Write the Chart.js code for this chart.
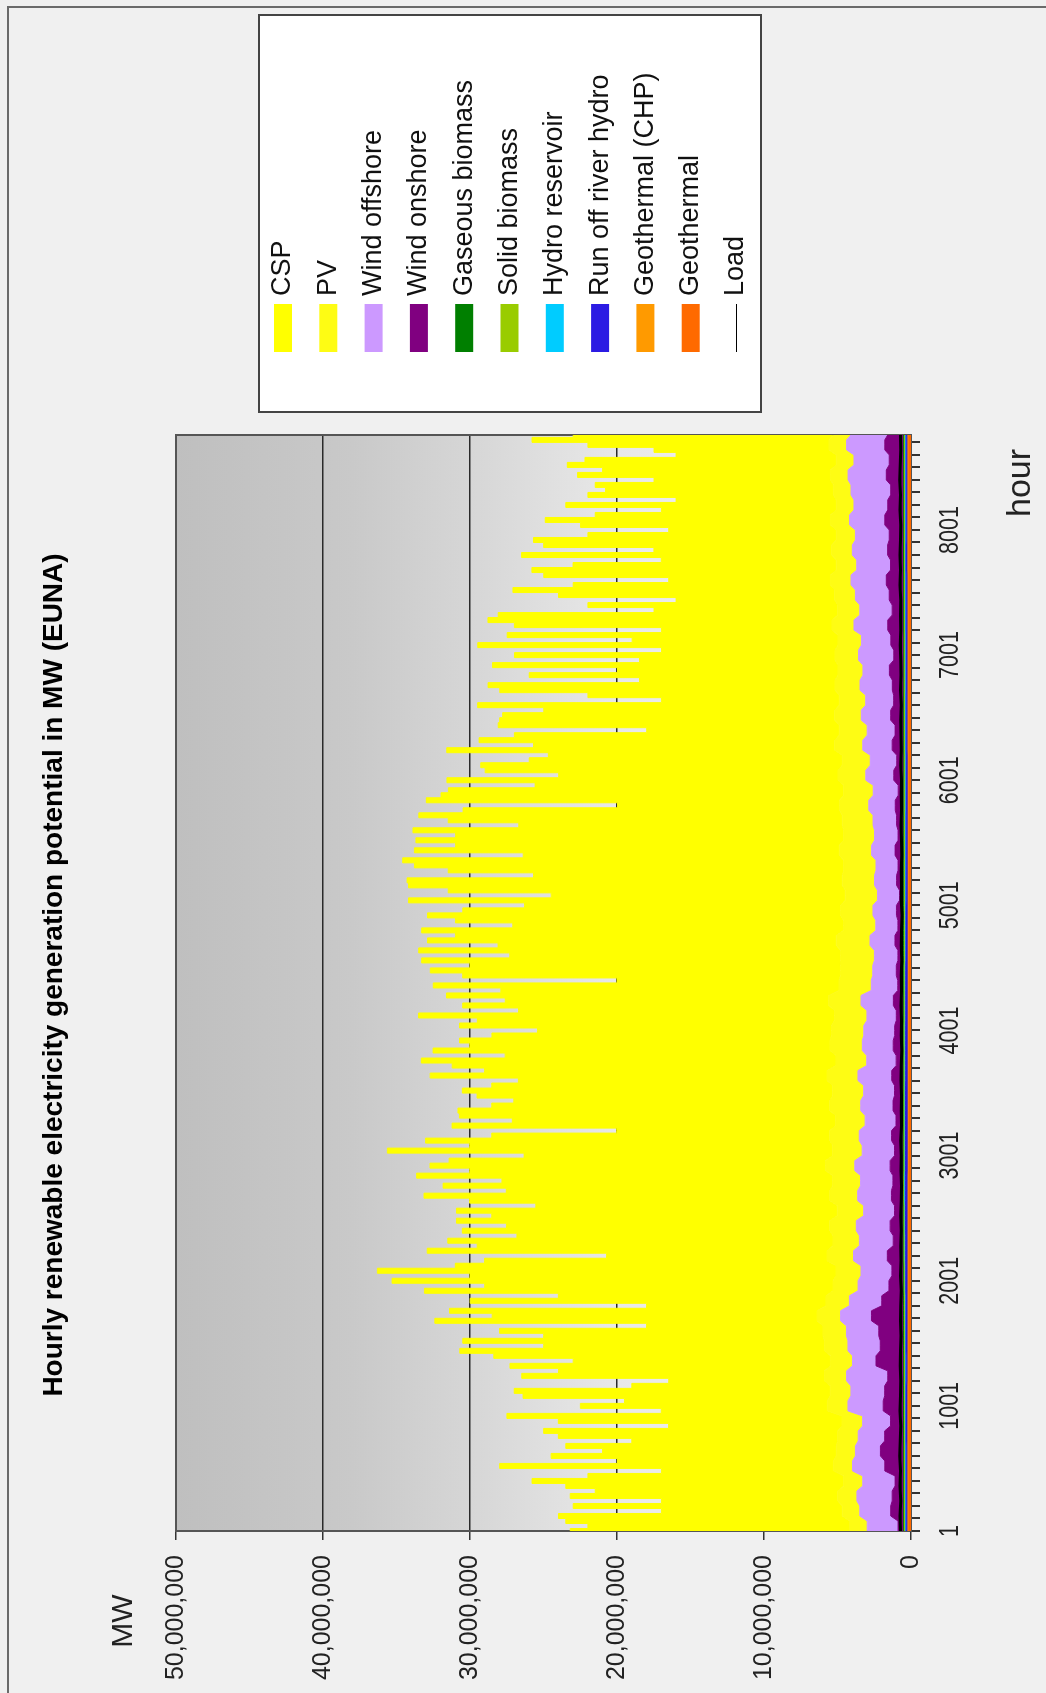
<!DOCTYPE html>
<html>
<head>
<meta charset="utf-8">
<script src="https://cdn.jsdelivr.net/npm/chart.js@4.4.0/dist/chart.umd.min.js"></script>
<style>
  html, body { margin: 0; padding: 0; background: #f0f0f0; }
  body { width: 1046px; height: 1693px; overflow: hidden; position: relative; }
  /* the chart is drawn landscape and turned a quarter turn, like the original screenshot */
  #wrap { position: absolute; left: 0; top: 1693px; width: 1693px; height: 1046px;
          transform-origin: 0 0; transform: rotate(-90deg); }
  canvas { display: block; }
</style>
</head>
<body>
<div id="wrap"><canvas id="chart" width="1693" height="1046"></canvas></div>
<script>
// sampling steps (hours) of the series below
const cspStep = 40;
const windStep = 120;
const baseStep = 240;

const hourLabels = [1, 1001, 2001, 3001, 4001, 5001, 6001, 7001, 8001];
const mwTicks = [0, 10e6, 20e6, 30e6, 40e6, 50e6];

const legendNames = ['CSP', 'PV', 'Wind offshore', 'Wind onshore', 'Gaseous biomass', 'Solid biomass',
  'Hydro reservoir', 'Run off river hydro', 'Geothermal (CHP)', 'Geothermal', 'Load'];
const legendColors = ['#ffff00', '#fefc14', '#cc99ff', '#800080', '#007f00', '#99cc00',
  '#00ccff', '#2b1be3', '#ff9a00', '#ff6a00', '#000000'];

// MW, one value every 40 h
const csp = [
  19.0e6, 17.8e6, 19.3e6, 19.3e6, 12.3e6, 18.3e6, 12.0e6, 18.2e6, 16.5e6, 18.9e6, 21.2e6, 17.4e6,
  11.7e6, 22.7e6, 14.7e6, 19.4e6, 15.9e6, 18.4e6, 14.0e6, 19.0e6, 20.0e6, 11.8e6, 19.3e6, 22.8e6,
  11.3e6, 16.8e6, 13.8e6, 20.9e6, 21.5e6, 13.5e6, 10.6e6, 20.6e6, 18.1e6, 21.8e6, 17.5e6, 22.9e6,
  24.8e6, 19.1e6, 24.6e6, 19.0e6, 22.0e6, 12.0e6, 26.0e6, 22.1e6, 25.0e6, 12.2e6, 24.2e6, 18.2e6,
  27.8e6, 23.7e6, 30.0e6, 24.9e6, 31.2e6, 25.9e6, 23.3e6, 15.0e6, 27.2e6, 24.2e6, 26.2e6, 21.5e6,
  25.0e6, 22.0e6, 25.4e6, 23.5e6, 25.9e6, 20.5e6, 24.5e6, 27.6e6, 22.0e6, 26.5e6, 22.5e6, 28.3e6,
  24.2e6, 26.9e6, 25.6e6, 21.0e6, 30.3e6, 24.7e6, 27.5e6, 23.0e6, 14.5e6, 26.1e6, 22.0e6, 25.6e6,
  25.3e6, 23.0e6, 21.5e6, 24.2e6, 25.2e6, 23.2e6, 21.0e6, 27.0e6, 23.3e6, 26.1e6, 28.2e6, 22.5e6,
  27.0e6, 24.5e6, 25.2e6, 23.1e6, 20.0e6, 25.3e6, 24.3e6, 28.3e6, 21.5e6, 24.9e6, 22.0e6, 26.0e6,
  23.0e6, 27.6e6, 15.1e6, 25.7e6, 27.9e6, 25.2e6, 28.5e6, 22.5e6, 28.7e6, 23.0e6, 27.8e6, 25.9e6,
  28.7e6, 22.5e6, 26.4e6, 28.1e6, 25.7e6, 21.5e6, 29.7e6, 20.0e6, 27.0e6, 29.5e6, 29.6e6, 21.0e6,
  26.9e6, 29.2e6, 30.0e6, 21.5e6, 28.9e6, 26.1e6, 29.1e6, 26.4e6, 29.3e6, 22.0e6, 26.8e6, 28.8e6,
  25.6e6, 15.1e6, 28.1e6, 27.4e6, 26.9e6, 21.0e6, 26.6e6, 19.0e6, 24.0e6, 24.6e6, 21.3e6, 20.0e6,
  26.4e6, 20.5e6, 24.2e6, 22.1e6, 13.1e6, 23.2e6, 22.8e6, 22.6e6, 19.8e6, 24.6e6, 12.1e6, 17.1e6,
  22.8e6, 23.6e6, 13.3e6, 21.0e6, 15.0e6, 23.5e6, 13.3e6, 21.8e6, 11.8e6, 24.5e6, 14.0e6, 22.5e6,
  11.6e6, 21.6e6, 23.4e6, 23.1e6, 12.5e6, 17.0e6, 10.8e6, 18.8e6, 21.9e6, 17.5e6, 11.0e6, 19.5e6,
  20.7e6, 17.9e6, 11.9e6, 21.1e6, 12.1e6, 19.6e6, 20.6e6, 16.9e6, 11.4e6, 17.0e6, 19.4e6, 16.0e6,
  11.9e6, 18.4e6, 10.9e6, 16.7e6, 15.5e6, 16.2e6, 12.0e6, 17.2e6, 15.5e6, 18.3e6, 17.1e6, 10.9e6,
  11.9e6, 16.4e6, 20.2e6, 17.7e6
];

// MW, one value every 120 h
const windOffshore = [
  2.1e6, 2.1e6, 2.4e6, 2.2e6, 2.2e6, 1.7e6, 1.8e6, 1.9e6, 2.4e6, 2.3e6, 2.8e6, 1.6e6, 2.2e6, 2.2e6, 2.1e6, 2.2e6,
  2.1e6, 2.1e6, 2.3e6, 2.3e6, 2.3e6, 2.1e6, 2.3e6, 2.2e6, 2.4e6, 2.2e6, 2.2e6, 2.1e6, 2.2e6, 2.1e6, 2.3e6, 2.0e6,
  2.1e6, 2.1e6, 2.0e6, 2.2e6, 1.8e6, 1.6e6, 1.6e6, 1.7e6, 1.5e6, 1.6e6, 1.5e6, 1.5e6, 1.5e6, 1.6e6, 1.6e6, 1.6e6,
  1.8e6, 1.7e6, 1.9e6, 1.8e6, 2.0e6, 1.9e6, 2.0e6, 1.9e6, 2.2e6, 1.8e6, 2.4e6, 2.0e6, 2.3e6, 2.2e6, 2.3e6, 2.4e6,
  2.3e6, 2.4e6, 2.3e6, 2.4e6, 2.3e6, 2.7e6, 2.6e6, 2.4e6, 2.6e6, 2.5e6
];
const windOnshore = [
  0.38e6, 0.88e6, 0.78e6, 0.58e6, 1.28e6, 1.58e6, 1.28e6, 0.88e6, 1.38e6, 1.28e6, 1.08e6, 1.88e6, 1.58e6, 1.68e6,
  2.18e6, 1.48e6, 0.98e6, 0.78e6, 1.08e6, 0.68e6, 0.88e6, 0.58e6, 0.78e6, 0.68e6, 0.88e6, 0.58e6, 0.78e6, 0.48e6,
  0.68e6, 0.58e6, 0.78e6, 0.48e6, 0.68e6, 0.58e6, 0.48e6, 0.68e6, 0.38e6, 0.48e6, 0.38e6, 0.58e6, 0.38e6, 0.48e6,
  0.28e6, 0.48e6, 0.38e6, 0.58e6, 0.38e6, 0.48e6, 0.58e6, 0.38e6, 0.68e6, 0.48e6, 0.78e6, 0.58e6, 0.88e6, 0.68e6,
  0.78e6, 0.98e6, 0.68e6, 0.88e6, 1.08e6, 0.78e6, 0.98e6, 1.18e6, 0.88e6, 1.08e6, 0.98e6, 1.28e6, 1.08e6, 0.88e6,
  1.18e6, 0.98e6, 1.28e6, 1.08e6
];
const load = [
  0.72e6, 0.75e6, 0.70e6, 0.74e6, 0.71e6, 0.76e6, 0.73e6, 0.70e6, 0.74e6, 0.72e6, 0.69e6, 0.73e6, 0.71e6, 0.68e6,
  0.72e6, 0.69e6, 0.67e6, 0.71e6, 0.68e6, 0.70e6, 0.66e6, 0.69e6, 0.67e6, 0.65e6, 0.68e6, 0.66e6, 0.69e6, 0.65e6,
  0.67e6, 0.64e6, 0.68e6, 0.66e6, 0.63e6, 0.67e6, 0.65e6, 0.68e6, 0.64e6, 0.66e6, 0.63e6, 0.67e6, 0.65e6, 0.62e6,
  0.66e6, 0.64e6, 0.67e6, 0.63e6, 0.65e6, 0.68e6, 0.64e6, 0.67e6, 0.65e6, 0.69e6, 0.66e6, 0.68e6, 0.70e6, 0.67e6,
  0.71e6, 0.68e6, 0.70e6, 0.73e6, 0.69e6, 0.72e6, 0.70e6, 0.74e6, 0.71e6, 0.75e6, 0.72e6, 0.70e6, 0.74e6, 0.71e6,
  0.76e6, 0.73e6, 0.70e6, 0.72e6
];

// MW, one value every 240 h
const pv = [
  1.2e6, 1.3e6, 1.3e6, 1.4e6, 1.4e6, 1.5e6, 1.6e6, 1.6e6, 1.7e6, 1.8e6, 1.8e6, 1.9e6, 2.0e6, 2.0e6, 2.1e6, 2.1e6,
  2.2e6, 2.2e6, 2.2e6, 2.3e6, 2.2e6, 2.2e6, 2.2e6, 2.1e6, 2.0e6, 1.9e6, 1.9e6, 1.8e6, 1.7e6, 1.6e6, 1.5e6, 1.4e6,
  1.4e6, 1.3e6, 1.2e6, 1.2e6, 1.2e6
];
const gaseousBiomass = [
  70e3, 70e3, 70e3, 70e3, 70e3, 70e3, 70e3, 70e3, 70e3, 70e3, 70e3, 70e3, 70e3, 70e3, 70e3, 70e3, 70e3, 70e3, 70e3,
  70e3, 70e3, 70e3, 70e3, 70e3, 70e3, 70e3, 70e3, 70e3, 70e3, 70e3, 70e3, 70e3, 70e3, 70e3, 70e3, 70e3, 70e3
];
const solidBiomass = [
  60e3, 60e3, 60e3, 60e3, 60e3, 60e3, 60e3, 60e3, 60e3, 60e3, 60e3, 60e3, 60e3, 60e3, 60e3, 60e3, 60e3, 60e3, 60e3,
  60e3, 60e3, 60e3, 60e3, 60e3, 60e3, 60e3, 60e3, 60e3, 60e3, 60e3, 60e3, 60e3, 60e3, 60e3, 60e3, 60e3, 60e3
];
const hydroReservoir = [
  40e3, 40e3, 40e3, 40e3, 40e3, 40e3, 40e3, 40e3, 40e3, 40e3, 40e3, 40e3, 40e3, 40e3, 40e3, 40e3, 40e3, 40e3, 40e3,
  40e3, 40e3, 40e3, 40e3, 40e3, 40e3, 40e3, 40e3, 40e3, 40e3, 40e3, 40e3, 40e3, 40e3, 40e3, 40e3, 40e3, 40e3
];
const runOffRiver = [
  120e3, 120e3, 120e3, 130e3, 130e3, 130e3, 140e3, 140e3, 150e3, 160e3, 170e3, 180e3, 180e3, 180e3, 180e3, 170e3,
  170e3, 160e3, 160e3, 150e3, 150e3, 140e3, 140e3, 140e3, 130e3, 130e3, 130e3, 130e3, 120e3, 120e3, 130e3, 130e3,
  130e3, 120e3, 120e3, 120e3, 120e3
];
const geothermalChp = [
  70e3, 70e3, 70e3, 70e3, 70e3, 60e3, 60e3, 60e3, 60e3, 60e3, 60e3, 60e3, 50e3, 50e3, 50e3, 50e3, 50e3, 50e3, 50e3,
  50e3, 50e3, 50e3, 50e3, 50e3, 50e3, 50e3, 60e3, 60e3, 60e3, 60e3, 60e3, 60e3, 70e3, 70e3, 70e3, 70e3, 70e3
];
const geothermal = [
  140e3, 140e3, 140e3, 140e3, 140e3, 140e3, 140e3, 140e3, 140e3, 140e3, 140e3, 140e3, 140e3, 140e3, 140e3, 140e3,
  140e3, 140e3, 140e3, 140e3, 140e3, 140e3, 140e3, 140e3, 140e3, 140e3, 140e3, 140e3, 140e3, 140e3, 140e3, 140e3,
  140e3, 140e3, 140e3, 140e3, 140e3
];

const FONT = "'Liberation Sans', Arial, sans-serif";
const colorOf = name => legendColors[legendNames.indexOf(name)];

// every stacked layer is put on the CSP hour grid so Chart.js can stack them
const hours = csp.map((_, i) => 1 + i * cspStep);
function onGrid(values, step) {
  return hours.map(h => ({ x: h, y: values[Math.min(values.length - 1, Math.floor((h - 1) / step))] }));
}

// bottom of the stack first
const layers = [
  ['Geothermal', geothermal, baseStep],
  ['Geothermal (CHP)', geothermalChp, baseStep],
  ['Run off river hydro', runOffRiver, baseStep],
  ['Hydro reservoir', hydroReservoir, baseStep],
  ['Solid biomass', solidBiomass, baseStep],
  ['Gaseous biomass', gaseousBiomass, baseStep],
  ['Wind onshore', windOnshore, windStep],
  ['Wind offshore', windOffshore, windStep],
  ['PV', pv, baseStep],
  ['CSP', csp, cspStep]
];

const datasets = layers.map(([name, values, step], i) => ({
  label: name,
  data: onGrid(values, step),
  stack: 'supply',
  fill: i === 0 ? 'origin' : '-1',
  backgroundColor: colorOf(name),
  borderColor: colorOf(name),
  borderWidth: 1,
  pointRadius: 0,
  tension: 0,
  stepped: name === 'CSP' ? 'middle' : false
}));
datasets.push({
  label: 'Load',
  data: load.map((v, i) => ({ x: 1 + i * windStep, y: v })),
  stack: 'load',
  fill: false,
  borderColor: '#000000',
  borderWidth: 3,
  pointRadius: 0,
  tension: 0,
  order: -1
});

const decor = {
  id: 'decor',
  beforeDraw(chart) {
    const { ctx, chartArea: a, width, height } = chart;
    ctx.save();
    ctx.fillStyle = '#f0f0f0';
    ctx.fillRect(0, 0, width, height);
    ctx.strokeStyle = '#6a6a6a';
    ctx.lineWidth = 2;
    ctx.beginPath();
    ctx.moveTo(0, 8);
    ctx.lineTo(1686, 8);
    ctx.lineTo(1686, height);
    ctx.stroke();
    const g = ctx.createLinearGradient(0, a.top, 0, a.bottom);
    g.addColorStop(0, '#bfbfbf');
    g.addColorStop(0.24, '#c9c9c9');
    g.addColorStop(0.4, '#d6d6d6');
    g.addColorStop(0.6, '#e8e8e8');
    g.addColorStop(1, '#f8f8f8');
    ctx.fillStyle = g;
    ctx.fillRect(a.left, a.top, a.right - a.left, a.bottom - a.top);
    ctx.restore();
  },
  beforeDatasetsDraw(chart) {
    const { ctx, chartArea: a } = chart;
    ctx.save();
    ctx.strokeStyle = '#555';
    ctx.lineWidth = 2;
    ctx.strokeRect(a.left, a.top, a.right - a.left, a.bottom - a.top);
    ctx.restore();
  },
  afterDraw(chart) {
    const { ctx } = chart;
    const xs = chart.scales.x;
    ctx.save();
    ctx.fillStyle = '#000';
    ctx.textAlign = 'center';
    ctx.textBaseline = 'middle';
    ctx.font = 'bold 28px ' + FONT;
    ctx.fillText('Hourly renewable electricity generation potential in MW (EUNA)', 718, 54);

    ctx.fillStyle = '#222';
    ctx.font = '30px ' + FONT;
    ctx.fillText('MW', 72, 124);
    ctx.font = '34px ' + FONT;
    ctx.fillText('hour', 1210, 1021);

    // narrow hour labels
    ctx.font = '28px ' + FONT;
    hourLabels.forEach(h => {
      ctx.save();
      ctx.translate(xs.getPixelForValue(h), 950);
      ctx.scale(0.77, 1);
      ctx.fillText(String(h), 0, 0);
      ctx.restore();
    });

    // legend
    ctx.fillStyle = '#fff';
    ctx.fillRect(1281, 259, 397, 502);
    ctx.strokeStyle = '#444';
    ctx.lineWidth = 2;
    ctx.strokeRect(1281, 259, 397, 502);
    ctx.font = '27px ' + FONT;
    ctx.textAlign = 'left';
    legendNames.forEach((name, i) => {
      const y = 283 + i * 45.3;
      if (name === 'Load') {
        ctx.strokeStyle = '#000';
        ctx.lineWidth = 1;
        ctx.beginPath();
        ctx.moveTo(1341, Math.round(y) + 0.5);
        ctx.lineTo(1389, Math.round(y) + 0.5);
        ctx.stroke();
      } else {
        ctx.fillStyle = legendColors[i];
        ctx.fillRect(1341, y - 9, 48, 18);
      }
      ctx.fillStyle = '#111';
      ctx.fillText(name, 1397, y);
    });
    ctx.restore();
  }
};

new Chart(document.getElementById('chart'), {
  type: 'line',
  data: { datasets },
  plugins: [decor],
  options: {
    responsive: false,
    animation: false,
    devicePixelRatio: 1,
    layout: { padding: { left: 0, right: 435, top: 176, bottom: 0 } },
    plugins: {
      legend: { display: false },
      title: { display: false },
      tooltip: { enabled: false }
    },
    scales: {
      x: {
        type: 'linear',
        min: 1,
        max: 8760,
        afterFit: s => { s.height = 135; },
        afterBuildTicks: s => {
          const t = [];
          for (let h = 1; h <= 8760; h += 100) t.push({ value: h });
          s.ticks = t;
        },
        ticks: { display: false },
        grid: { drawOnChartArea: false, tickLength: 9, tickColor: '#333', lineWidth: 2 },
        border: { color: '#555', width: 2 }
      },
      y: {
        stacked: true,
        min: 0,
        max: 50e6,
        afterFit: s => { s.width = 162; },
        afterBuildTicks: s => { s.ticks = mwTicks.map(v => ({ value: v })); },
        ticks: {
          callback: v => v.toLocaleString('en-US'),
          font: { family: FONT, size: 25 },
          color: '#222',
          padding: 15
        },
        grid: { color: '#2a2a2a', lineWidth: 1.5, tickLength: 9, tickColor: '#333' },
        border: { color: '#555', width: 2 }
      }
    }
  }
});
</script>
</body>
</html>
